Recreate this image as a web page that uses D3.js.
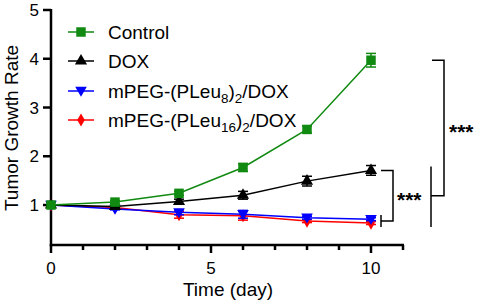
<!DOCTYPE html>
<html>
<head>
<meta charset="utf-8">
<script src="https://cdn.jsdelivr.net/npm/d3@7"></script>
<style>
  body { margin: 0; background: #fff; }
  svg { display: block; font-family: Arial, "Liberation Sans", sans-serif; }
</style>
</head>
<body>
<svg id="chart" width="477" height="305"></svg>
<script>
// data
const days = [0, 2, 4, 6, 8, 10];
const controlMean = [1, 1.06, 1.24, 1.77, 2.55, 3.97];
const controlErr  = [0, 0.03, 0.04, 0.08, 0.07, 0.14];
const doxMean = [1, 0.97, 1.07, 1.20, 1.49, 1.71];
const doxErr  = [0, 0.02, 0.05, 0.08, 0.10, 0.10];
const peg8Mean = [1, 0.92, 0.85, 0.81, 0.74, 0.71];
const peg8Err  = [0, 0.02, 0.05, 0.08, 0.03, 0.03];
const peg16Mean = [1, 0.95, 0.80, 0.78, 0.67, 0.63];
const peg16Err  = [0, 0.02, 0.07, 0.09, 0.03, 0.03];

const yTicks = [1, 2, 3, 4, 5];
const xMajorTicks = [0, 5, 10];
const xMinorTicks = [1, 2, 3, 4, 6, 7, 8, 9, 11];

const series = [
  { key: "peg16", mean: peg16Mean, err: peg16Err, color: "#ff0000", shape: "diamond" },
  { key: "peg8",  mean: peg8Mean,  err: peg8Err,  color: "#0000ff", shape: "down" },
  { key: "dox",   mean: doxMean,   err: doxErr,   color: "#000000", shape: "up" },
  { key: "ctrl",  mean: controlMean, err: controlErr, color: "#108a10", shape: "square" }
];

const svg = d3.select("#chart");

const x = d3.scaleLinear().domain([0, 11]).range([51, 403]);
const y = d3.scaleLinear().domain([0.18, 5]).range([245, 10]);

function markerPath(shape) {
  if (shape === "square") return d3.symbol(d3.symbolSquare, 90)();
  if (shape === "up") return d3.symbol(d3.symbolTriangle, 64)();
  if (shape === "down") return "M-5.8,-4.2L5.8,-4.2L0,5.8Z";
  return d3.symbol(d3.symbolDiamond, 50)();
}

// ---- axes ----
const ax = svg.append("g").attr("stroke", "#000").attr("stroke-width", 2.5).attr("fill", "none");
ax.append("line").attr("x1", x(0)).attr("x2", x(0)).attr("y1", y(5) - 1).attr("y2", y(0.18) + 1.2);
ax.append("line").attr("x1", x(0) - 1.2).attr("x2", x(11) + 1).attr("y1", y(0.18)).attr("y2", y(0.18));

yTicks.forEach(t => {
  ax.append("line").attr("x1", x(0) - 8).attr("x2", x(0)).attr("y1", y(t)).attr("y2", y(t));
});
xMajorTicks.forEach(t => {
  ax.append("line").attr("x1", x(t)).attr("x2", x(t)).attr("y1", y(0.18)).attr("y2", y(0.18) + 8);
});
xMinorTicks.forEach(t => {
  ax.append("line").attr("x1", x(t)).attr("x2", x(t)).attr("y1", y(0.18)).attr("y2", y(0.18) + 5);
});

svg.append("g").selectAll("text").data(yTicks).join("text")
  .attr("x", x(0) - 12).attr("y", d => y(d) + 6)
  .attr("text-anchor", "end").attr("font-size", 17).text(d => d);

svg.append("g").selectAll("text").data(xMajorTicks).join("text")
  .attr("x", d => x(d)).attr("y", 274)
  .attr("text-anchor", "middle").attr("font-size", 17).text(d => d);

svg.append("text")
  .attr("transform", "translate(18,128) rotate(-90)")
  .attr("text-anchor", "middle").attr("font-size", 19)
  .text("Tumor Growth Rate");

svg.append("text")
  .attr("x", 228).attr("y", 296)
  .attr("text-anchor", "middle").attr("font-size", 19)
  .text("Time (day)");

// ---- series ----
const line = d3.line().x(d => x(d[0])).y(d => y(d[1]));

series.forEach(s => {
  const pts = days.map((d, i) => [d, s.mean[i], s.err[i]]);
  const g = svg.append("g");
  g.append("path").attr("d", line(pts)).attr("fill", "none")
    .attr("stroke", s.color).attr("stroke-width", 1.5);
  pts.filter(p => p[2] > 0).forEach(p => {
    const eb = g.append("g").attr("stroke", s.color).attr("stroke-width", 1.5);
    eb.append("line").attr("x1", x(p[0])).attr("x2", x(p[0]))
      .attr("y1", y(p[1] - p[2])).attr("y2", y(p[1] + p[2]));
    [p[1] - p[2], p[1] + p[2]].forEach(v => {
      eb.append("line").attr("x1", x(p[0]) - 5).attr("x2", x(p[0]) + 5)
        .attr("y1", y(v)).attr("y2", y(v));
    });
  });
  g.selectAll("path.mk").data(pts).join("path").attr("class", "mk")
    .attr("d", markerPath(s.shape))
    .attr("transform", p => `translate(${x(p[0])},${y(p[1])})`)
    .attr("fill", s.color);
});

// ---- legend ----
const legendItems = [
  { key: "ctrl", parts: [["Control", 0]] },
  { key: "dox", parts: [["DOX", 0]] },
  { key: "peg8", parts: [["mPEG-(PLeu", 0], ["8", 1], [")", 0], ["2", 1], ["/DOX", 0]] },
  { key: "peg16", parts: [["mPEG-(PLeu", 0], ["16", 1], [")", 0], ["2", 1], ["/DOX", 0]] }
];
const legendY = [32, 61, 91, 120];
legendItems.forEach((it, i) => {
  const s = series.find(d => d.key === it.key);
  const cy = legendY[i];
  svg.append("line").attr("x1", 68).attr("x2", 94).attr("y1", cy).attr("y2", cy)
    .attr("stroke", s.color).attr("stroke-width", 1.5);
  svg.append("path").attr("d", markerPath(s.shape))
    .attr("transform", `translate(81,${cy})`).attr("fill", s.color);
  const t = svg.append("text").attr("x", 108).attr("y", cy + 7).attr("font-size", 19);
  let shifted = false;
  it.parts.forEach(([txt, sub]) => {
    const ts = t.append("tspan").text(txt);
    if (sub && !shifted) { ts.attr("dy", 5).attr("font-size", 13.5); shifted = true; }
    else if (sub && shifted) { ts.attr("font-size", 13.5); }
    else if (!sub && shifted) { ts.attr("dy", -5); shifted = false; }
  });
});

// ---- significance brackets ----
const br = svg.append("g").attr("stroke", "#000").attr("stroke-width", 1.5).attr("fill", "none");
const innerTop = y(doxMean[5]), innerBot = y((peg8Mean[5] + peg16Mean[5]) / 2);
const xi = x(10) + 22;
br.append("path").attr("d", `M${x(10) + 10},${innerTop}H${xi}V${innerBot}H${x(10) + 10}`);
br.append("line").attr("x1", x(10) + 10).attr("x2", x(10) + 10)
  .attr("y1", innerBot - 6).attr("y2", innerBot + 6);
svg.append("text").attr("x", xi + 4).attr("y", (innerTop + innerBot) / 2 + 11)
  .attr("font-size", 21).attr("font-weight", "bold").text("***");

const outerTop = y(controlMean[5]), outerBot = (innerTop + innerBot) / 2;
const xo = x(10) + 73;
br.append("path").attr("d", `M${x(10) + 61},${outerTop}H${xo}V${outerBot}H${x(10) + 60}`);
br.append("line").attr("x1", x(10) + 60).attr("x2", x(10) + 60)
  .attr("y1", innerTop - 4).attr("y2", innerBot + 6);
svg.append("text").attr("x", xo + 5).attr("y", (outerTop + outerBot) / 2 + 11)
  .attr("font-size", 21).attr("font-weight", "bold").text("***");
</script>
</body>
</html>
